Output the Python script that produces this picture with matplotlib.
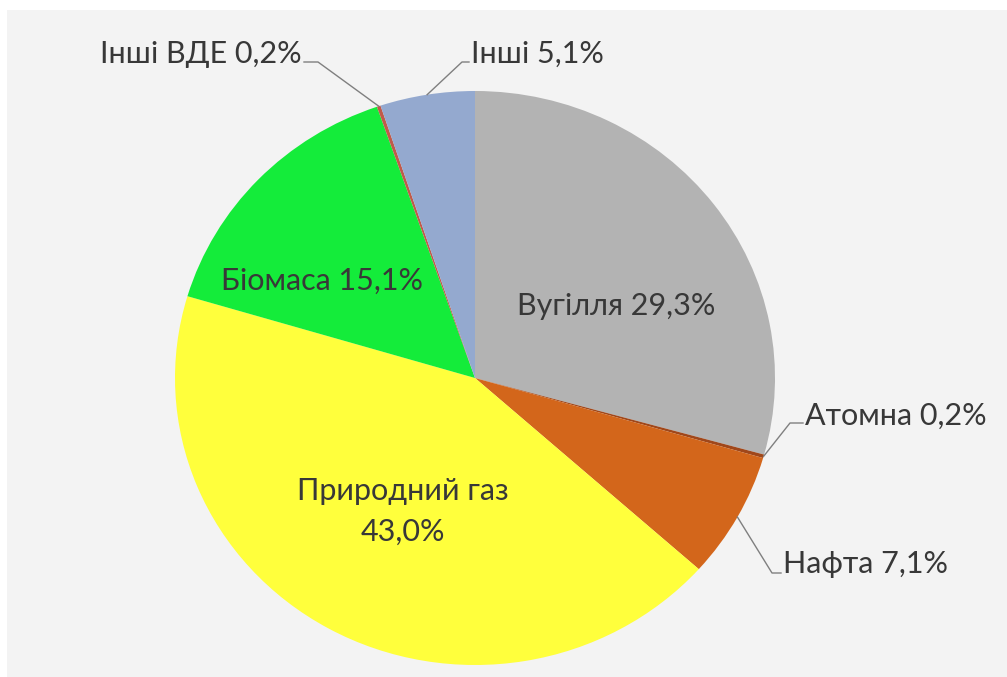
import numpy as np
import matplotlib.pyplot as plt
from matplotlib.patches import Rectangle

plt.rcParams['font.family'] = ['Lato', 'DejaVu Sans']

# shares of the energy mix, clockwise from 12 o'clock
names = ['Вугілля', 'Атомна', 'Нафта', 'Природний газ', 'Біомаса', 'Інші ВДЕ', 'Інші']
shares = [29.3, 0.2, 7.1, 43.0, 15.1, 0.2, 5.1]
colors = ['#b3b3b3', '#a0471a', '#d3661b', '#ffff3c', '#14ec3a', '#c05a4a', '#94a9cf']

W, H = 1007, 677
CX, CY, RX, RY = 475, 378, 300, 287
TXT = '#383838'


def to_ax(px, py):
    # pixel position -> pie axes coords
    return (px - CX) / RX, (CY - py) / RY


def pct(v):
    return ('%.1f' % v).replace('.', ',') + '%'


fig = plt.figure(figsize=(W / 100, H / 100), dpi=100)
fig.patch.set_facecolor('white')
fig.patches.append(Rectangle((7 / W, 0), 1, (H - 10) / H, transform=fig.transFigure,
                             facecolor='#f3f3f3', edgecolor='none', zorder=-5))

ax = fig.add_axes([(CX - RX) / W, (H - CY - RY) / H, 2 * RX / W, 2 * RY / H])
ax.set_zorder(2)
wedges, _ = ax.pie(shares, colors=colors, startangle=90, counterclock=False, radius=1,
                   wedgeprops=dict(linewidth=0))
ax.set_aspect('auto')
ax.set_xlim(-1, 1)
ax.set_ylim(-1, 1)
ax.axis('off')

fs = 22
# labels inside the slices (x centre, baseline y in pixels)
inside = {0: (616, 315), 4: (322, 290)}
for i, (px, py) in inside.items():
    x, y = to_ax(px, py)
    ax.text(x, y, names[i] + ' ' + pct(shares[i]), ha='center', va='baseline',
            fontsize=fs, color=TXT)
# gas label is on two lines
for txt, py in [(names[3], 500), (pct(shares[3]), 541)]:
    x, y = to_ax(403, py)
    ax.text(x, y, txt, ha='center', va='baseline', fontsize=fs, color=TXT)

# labels outside with leader lines: (text x, baseline y, align, elbow, line end)
outside = {
    5: (302, 63, 'right', (318, 62), (304, 62)),
    6: (471, 63, 'left', (462, 62), (469, 62)),
    1: (805, 425, 'left', (790, 423), (803, 423)),
    2: (783, 573, 'left', (772, 573), (781, 573)),
}
cum = np.cumsum([0] + shares)
for i, (tx, ty, ha, elbow, end) in outside.items():
    mid = (cum[i] + cum[i + 1]) / 2 / 100.0
    ang = np.deg2rad(90 - mid * 360)
    ex, ey = np.cos(ang), np.sin(ang)
    bx, by = to_ax(*elbow)
    lx, ly = to_ax(*end)
    ax.plot([ex, bx, lx], [ey, by, ly], color='#7f7f7f', lw=1, clip_on=False)
    x, y = to_ax(tx, ty)
    ax.text(x, y, names[i] + ' ' + pct(shares[i]), ha=ha, va='baseline',
            fontsize=fs, color=TXT, clip_on=False)

fig.savefig('out.png', dpi=100)
